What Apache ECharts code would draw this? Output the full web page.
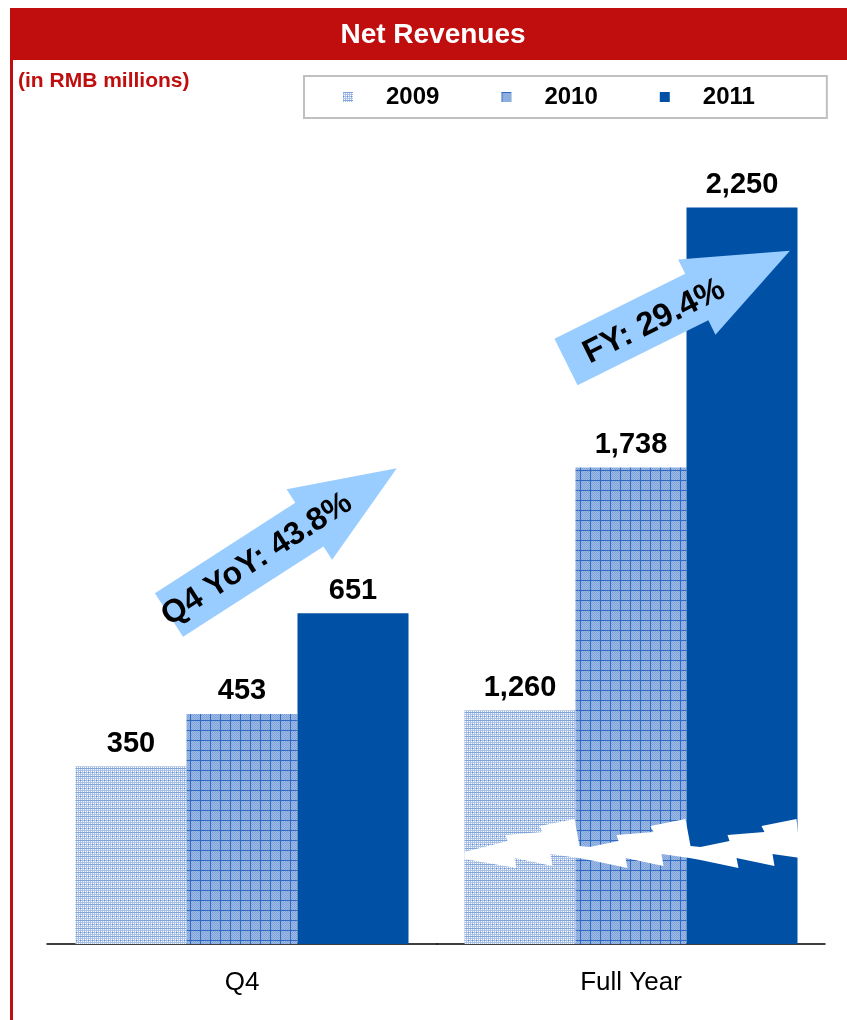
<!DOCTYPE html>
<html>
<head>
<meta charset="utf-8">
<script src="https://cdn.jsdelivr.net/npm/echarts@6/dist/echarts.min.js"></script>
<style>
html,body{margin:0;padding:0;background:#fff;}
#chart{width:847px;height:1020px;}
</style>
</head>
<body>
<div id="chart"></div>
<script>
// ---- data ----
const categories = ['Q4', 'Full Year'];
const years = ['2009', '2010', '2011'];
const q4Values = [350, 453, 651];
const fyValues = [1260, 1738, 2250];
const titleText = 'Net Revenues';
const unitText = '(in RMB millions)';
const q4Growth = 'Q4 YoY: 43.8%';
const fyGrowth = 'FY: 29.4%';

const FONT = '"Liberation Sans", Arial, sans-serif';
const RED = '#C00D0D';
const DARK = '#0050A5';

function makePattern(kind) {
  const c = document.createElement('canvas');
  if (kind === 0) {
    c.width = 8; c.height = 8;
    const g = c.getContext('2d');
    g.fillStyle = '#ffffff'; g.fillRect(0, 0, 8, 8);
    g.fillStyle = '#A8C0E8';
    for (let i = 0; i < 8; i += 2) { g.fillRect(i, 0, 1, 8); g.fillRect(0, i, 8, 1); }
    g.fillStyle = '#5F8ED2';
    for (let i = 0; i < 8; i += 4) for (let j = 0; j < 8; j += 4) g.fillRect(i, j, 1, 1);
    g.fillStyle = '#7FA4DC';
    g.fillRect(0, 0, 8, 1);
  } else {
    c.width = 10; c.height = 10;
    const g = c.getContext('2d');
    for (let x = 0; x < 10; x++) for (let y = 0; y < 10; y++) {
      g.fillStyle = ((x + y) % 2) ? '#9DBAE5' : '#80A4DA';
      g.fillRect(x, y, 1, 1);
    }
    g.fillStyle = '#3069C2';
    g.fillRect(0, 0, 10, 1); g.fillRect(0, 0, 1, 10);
  }
  return c;
}
const yearColors = [
  { image: makePattern(0), repeat: 'repeat' },
  { image: makePattern(1), repeat: 'repeat' },
  DARK
];

const chart = echarts.init(document.getElementById('chart'), null, { renderer: 'canvas' });

const BARW = 111;
const labelCfg = {
  show: true, position: 'top', distance: 8,
  fontFamily: FONT, fontWeight: 'bold', fontSize: 29, color: '#000',
  formatter: p => Number(p.value).toLocaleString('en-US')
};

const series = [];
years.forEach((y, i) => {
  series.push({
    name: y, type: 'bar', xAxisIndex: 0, yAxisIndex: 0,
    data: [q4Values[i]], barWidth: BARW, barGap: '0%',
    itemStyle: { color: yearColors[i] }, label: labelCfg, z: 2
  });
  series.push({
    name: y, type: 'bar', xAxisIndex: 1, yAxisIndex: 1,
    data: [fyValues[i]], barWidth: BARW, barGap: '0%',
    itemStyle: { color: yearColors[i] }, label: labelCfg, z: 2
  });
});

const xAxisBase = {
  type: 'category',
  axisLine: { show: true, lineStyle: { color: '#000', width: 1.5 } },
  axisTick: { show: false },
  axisLabel: { fontFamily: FONT, fontSize: 26, color: '#000', margin: 26 }
};

function arrow(tx, ty, angleDeg, L, text, fontSize, textAt, textOff) {
  const hw = 26, hh = 42, hl = 104;
  const rot = angleDeg * Math.PI / 180;
  const pts = [[0, -hw], [L - hl, -hw], [L - hl, -hh], [L, 0], [L - hl, hh], [L - hl, hw], [0, hw]];
  const cx = tx + Math.cos(rot) * textAt + Math.sin(rot) * textOff;
  const cy = ty - Math.sin(rot) * textAt + Math.cos(rot) * textOff;
  return [
    { type: 'polygon', x: tx, y: ty, rotation: rot, shape: { points: pts },
      style: { fill: '#99CCFF' }, z: 200 },
    { type: 'text', x: cx, y: cy, rotation: rot,
      style: { text: text, fontFamily: FONT, fontWeight: 'bold', fontSize: fontSize,
        fill: '#000', align: 'center', verticalAlign: 'middle' }, z: 201 }
  ];
}

const baseGraphics = [
  { type: 'rect', shape: { x: 10, y: 8, width: 837, height: 52 }, style: { fill: RED }, z: 50 },
  { type: 'rect', shape: { x: 10, y: 8, width: 3, height: 1012 }, style: { fill: RED }, z: 50 },
  { type: 'text', x: 433, y: 35, style: { text: titleText, fontFamily: FONT, fontWeight: 'bold',
      fontSize: 28, fill: '#fff', align: 'center', verticalAlign: 'middle' }, z: 51 },
  { type: 'text', x: 18, y: 81, style: { text: unitText, fontFamily: FONT, fontWeight: 'bold',
      fontSize: 21, fill: RED, align: 'left', verticalAlign: 'middle' }, z: 51 }
].concat(
  arrow(169, 615, 32.8, 271, q4Growth, 32, 104, 1),
  arrow(566, 362, 26.4, 250, fyGrowth, 33, 97, 3)
);

chart.setOption({
  animation: false,
  backgroundColor: '#fff',
  legend: {
    data: years, left: 304, top: 76,
    orient: 'horizontal',
    padding: [9, 72, 9, 39],
    itemGap: 62, itemWidth: 10, itemHeight: 10, icon: 'rect',
    borderColor: '#C0C0C0', borderWidth: 2,
    textStyle: { fontFamily: FONT, fontWeight: 'bold', fontSize: 24, color: '#000', padding: [0, 0, 0, 28] }
  },
  grid: [
    { left: 47, width: 390, top: 182, bottom: 76 },
    { left: 437, width: 388, top: 182, bottom: 76 }
  ],
  xAxis: [
    Object.assign({ gridIndex: 0, data: [categories[0]] }, xAxisBase),
    Object.assign({ gridIndex: 1, data: [categories[1]] }, xAxisBase)
  ],
  yAxis: [
    { gridIndex: 0, type: 'value', min: 0, max: 1500, show: false, splitLine: { show: false } },
    { gridIndex: 1, type: 'value', min: 800, max: 2300, show: false, splitLine: { show: false } }
  ],
  series: series,
  graphic: baseGraphics
});

// Broken-axis zigzag across the Full Year bars, anchored to the axis scales
const fyCenter = chart.convertToPixel({ xAxisIndex: 1 }, categories[1]);
const zigBaseY = chart.convertToPixel({ yAxisIndex: 1 }, 985);
const lefts = years.map((_, i) => fyCenter - 1.5 * BARW + i * BARW);
const topRel = [[14, -3], [43, -9], [41, -15], [78, -18], [75, -24], [110, -31]];
const botRel = [[114, 8], [86, 4], [88, 16], [50, 8], [52, 18], [14, 10]];
const zTop = [[lefts[0], 2]];
const zBot = [];
lefts.forEach((x0, i) => {
  const tr = topRel.slice();
  if (i === 0) tr.shift();
  tr.forEach(p => zTop.push([x0 + p[0], p[1]]));
  if (i < lefts.length - 1) zTop.push([x0 + BARW + 4, -4]);
});
for (let i = lefts.length - 1; i >= 0; i--) {
  const x0 = lefts[i];
  botRel.forEach((p, k) => {
    if (i === 0 && k === botRel.length - 1) return;
    zBot.push([x0 + p[0], p[1]]);
  });
}
zBot.push([lefts[0], 9]);
const zigPts = zTop.concat(zBot).map(p => [p[0], zigBaseY + p[1]]);
chart.setOption({
  graphic: baseGraphics.concat([
    { type: 'polygon', shape: { points: zigPts }, style: { fill: '#ffffff' }, z: 150 }
  ])
}, { replaceMerge: ['graphic'] });
</script>
</body>
</html>
